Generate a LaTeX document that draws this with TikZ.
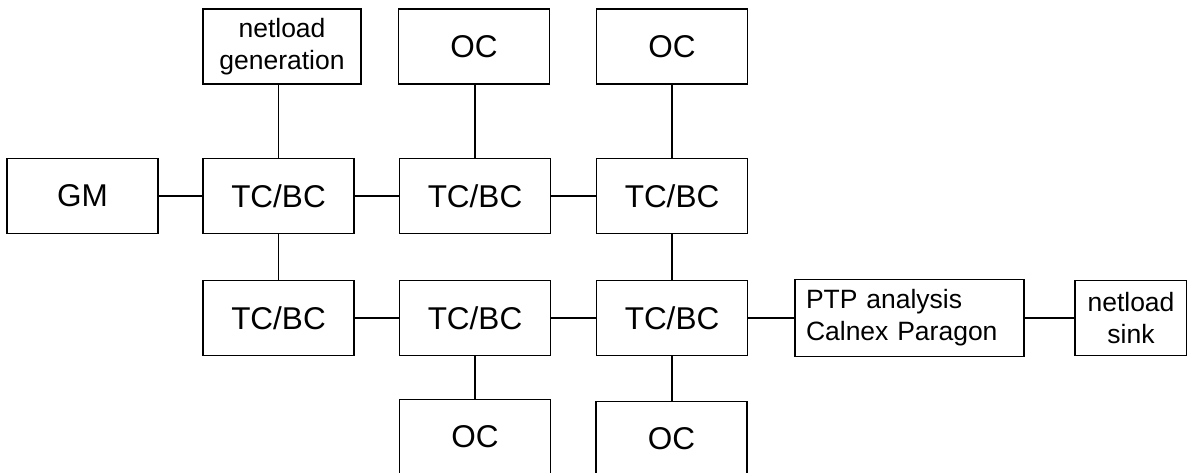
\documentclass[tikz,border=0pt]{standalone}
\usepackage{fontspec}
\setmainfont{Liberation Sans}
\begin{document}
\begin{tikzpicture}[x=1pt,y=-1pt,
  box/.style={draw, line width=1.8pt, inner sep=0pt, minimum width=151pt, minimum height=75pt, font=\fontsize{31.5}{36}\selectfont},
  smallbox/.style={draw, line width=1.8pt, inner sep=0pt, minimum height=75pt, align=center, font=\fontsize{26.5}{32}\selectfont},
  link/.style={line width=1.8pt}]
\useasboundingbox (0,0) rectangle (1187,472);
\clip (0,0) rectangle (1187,472);
% top row
\node[smallbox, minimum width=158pt] (netgen) at (282,46.5) {netload\\generation};
\node[box] (octop1) at (474,46.5) {OC};
\node[box] (octop2) at (672,46.5) {OC};
% row 1
\node[box] (gm) at (82.5,196) {GM};
\node[box] (tc11) at (278.5,196) {TC/BC};
\node[box] (tc12) at (475,196) {TC/BC};
\node[box] (tc13) at (672,196) {TC/BC};
% row 2
\node[box] (tc21) at (278.5,318) {TC/BC};
\node[box] (tc22) at (475,318) {TC/BC};
\node[box] (tc23) at (672,318) {TC/BC};
\node[draw, line width=1.8pt, minimum width=229pt, minimum height=77pt, text width=207pt, inner xsep=11pt, inner ysep=0pt, align=left, font=\fontsize{26.5}{32}\selectfont] (ptp) at (909.5,318) {PTP analysis\\Calnex Paragon};
\node[smallbox, minimum width=112pt] (sink) at (1131,318) {netload\\sink};
% bottom row
\node[box] (ocbot1) at (475,437) {OC};
\node[box] (ocbot2) at (671.5,439) {OC};
% connectors
\draw[link] (tc11.north) -- (tc11.north |- netgen.south);
\draw[link] (tc12.north) -- (tc12.north |- octop1.south);
\draw[link] (tc13.north) -- (tc13.north |- octop2.south);
\draw[link] (gm) -- (tc11);
\draw[link] (tc11) -- (tc12);
\draw[link] (tc12) -- (tc13);
\draw[link] (tc11) -- (tc21);
\draw[link] (tc13) -- (tc23);
\draw[link] (tc21) -- (tc22);
\draw[link] (tc22) -- (tc23);
\draw[link] (tc23) -- (ptp);
\draw[link] (ptp) -- (sink);
\draw[link] (tc22) -- (ocbot1);
\draw[link] (tc23.south) -- (tc23.south |- ocbot2.north);
\end{tikzpicture}
\end{document}
